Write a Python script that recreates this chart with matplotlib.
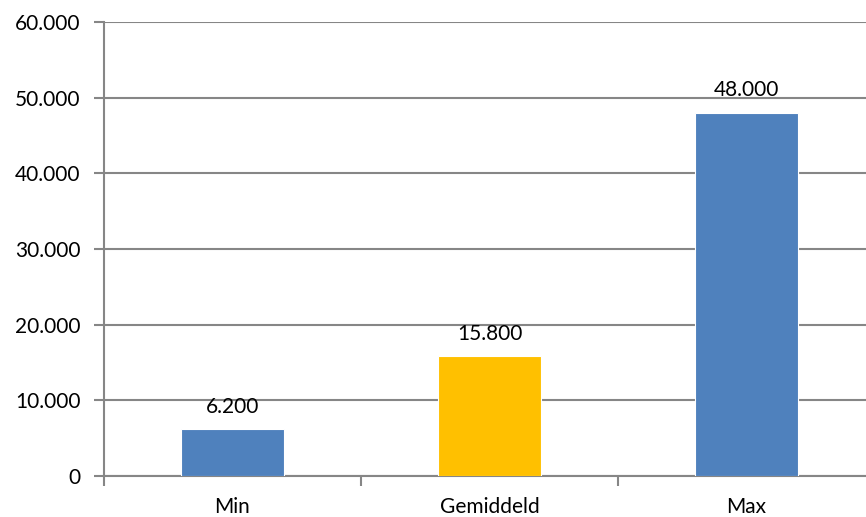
import matplotlib.pyplot as plt
import numpy as np
from matplotlib.ticker import FuncFormatter

categories = ["Min", "Gemiddeld", "Max"]
values = [6200, 15800, 48000]
bar_colors = ["#4F81BD", "#FFC000", "#4F81BD"]

plt.rcParams["font.family"] = ["Lato", "DejaVu Sans"]

fig = plt.figure(figsize=(8.66, 5.17), dpi=100)
# plot area runs a bit past the right edge of the figure, like the original
ax = fig.add_axes([104 / 866, 1 - 476 / 517, 771 / 866, (476 - 22) / 517])

x = np.arange(len(categories))
ax.bar(x, values, width=0.4, color=bar_colors, edgecolor="white", linewidth=0.8, zorder=3)

for xi, v in zip(x, values):
    ax.annotate(f"{v:,}".replace(",", "."), (xi, v), xytext=(0, 9), textcoords="offset points",
                ha="center", va="bottom", fontsize=15, color="black", zorder=4)

ax.set_xlim(-0.5, 2.5)
ax.set_ylim(0, 60000)
ax.set_yticks(np.arange(0, 60001, 10000))
ax.yaxis.set_major_formatter(FuncFormatter(lambda v, p: f"{int(v):,}".replace(",", ".")))
ax.set_xticks(x)
ax.set_xticklabels(categories)
ax.set_xticks([-0.5, 0.5, 1.5, 2.5], minor=True)

ax.grid(axis="y", color="#868686", linewidth=1.5, zorder=0)
ax.tick_params(axis="y", length=7, width=1.5, color="#868686", labelsize=15, pad=10)
ax.tick_params(axis="x", which="major", length=0, labelsize=15, pad=15)
ax.tick_params(axis="x", which="minor", length=7, width=1.5, color="#868686")

for side in ["top", "right"]:
    ax.spines[side].set_visible(False)
for side in ["left", "bottom"]:
    ax.spines[side].set_color("#868686")
    ax.spines[side].set_linewidth(1.5)

fig.savefig("out.png", dpi=100)
